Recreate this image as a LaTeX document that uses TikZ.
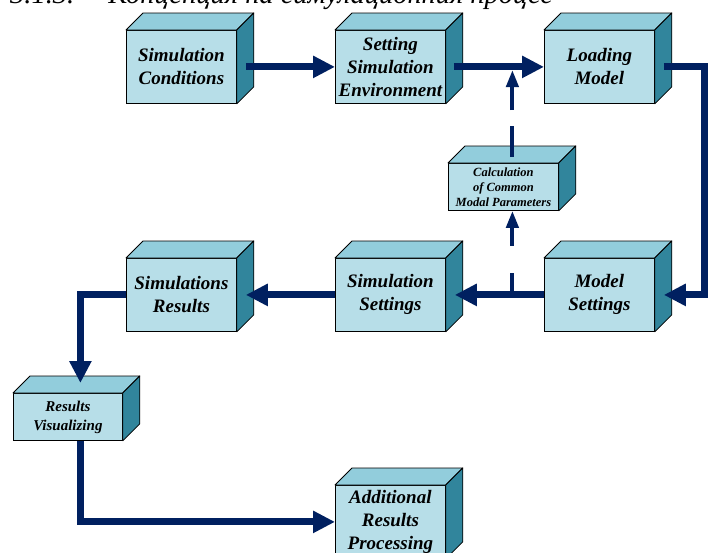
\documentclass[tikz,border=0pt]{standalone}
\usepackage{fontspec}
\setmainfont{Liberation Serif}
\usetikzlibrary{arrows.meta,calc}

\definecolor{frontcol}{HTML}{B7DEE8}
\definecolor{topcol}{HTML}{92CDDC}
\definecolor{sidecol}{HTML}{31859C}
\definecolor{flowcol}{HTML}{002060}

\tikzset{
  block/.style={draw=black, line width=0.8pt, fill=frontcol, align=center,
    inner sep=0pt, anchor=north west, minimum width=110pt, minimum height=73pt,
    font=\bfseries\itshape\fontsize{19}{23}\selectfont},
  smallblock/.style={block, minimum height=47pt},
  facetop/.style={fill=topcol, draw=black, line width=0.8pt, line join=round},
  faceside/.style={fill=sidecol, draw=black, line width=0.8pt, line join=round},
  flow/.style={draw=flowcol, line width=7pt, line join=miter,
    -{Triangle[length=22pt,width=21pt]}},
  feedback/.style={draw=flowcol, line width=4pt,
    -{Triangle[length=17pt,width=12pt]}},
}

% top and side faces of a block drawn as a cuboid
\newcommand{\blockdepth}[2][17]{%
  \filldraw[facetop] (#2.north west) -- ($(#2.north west)+(#1,-#1)$)
    -- ($(#2.north east)+(#1,-#1)$) -- (#2.north east) -- cycle;
  \filldraw[faceside] (#2.north east) -- ($(#2.north east)+(#1,-#1)$)
    -- ($(#2.south east)+(#1,-#1)$) -- (#2.south east) -- cycle;
}

\begin{document}
\begin{tikzpicture}[x=1pt, y=-1pt]
  \useasboundingbox (0,0) rectangle (709,552);
  \fill[white] (0,0) rectangle (709,552);
  \clip (0,0) rectangle (709,552);

  % section heading
  \node[anchor=base west, inner sep=0pt, font=\itshape\fontsize{28.5}{32}\selectfont]
    (heading) at (10,3) {3.1.3.\hspace{34pt}Концепция на симулационния процес};

  % upper row
  \node[block] (cond) at (126,30) {Simulation\\Conditions};
  \blockdepth{cond}
  \node[block] (env) at (335,30) {Setting\\Simulation\\Environment};
  \blockdepth{env}
  \node[block] (load) at (544,30) {Loading\\Model};
  \blockdepth{load}

  % parameter calculation
  \node[smallblock, font=\bfseries\itshape\fontsize{12.5}{15}\selectfont]
    (calc) at (448,163) {Calculation\\of Common\\Modal Parameters};
  \blockdepth{calc}

  % middle row
  \node[block] (res) at (126,258) {Simulations\\Results};
  \blockdepth{res}
  \node[block] (sset) at (335,258) {Simulation\\Settings};
  \blockdepth{sset}
  \node[block] (model) at (544,258) {Model\\Settings};
  \blockdepth{model}

  % lower blocks
  \node[smallblock, minimum width=109pt, font=\bfseries\itshape\fontsize{15}{19}\selectfont]
    (vis) at (13,393) {Results\\Visualizing};
  \blockdepth{vis}
  \node[block] (add) at (335,485) {Additional\\Results\\Processing};
  \blockdepth{add}

  % main flow
  \draw[flow] ($(cond.east)+(9,0)$) -- (env.west);
  \draw[flow] ($(env.east)+(8,0)$) -- (load.west);
  \draw[flow] ($(load.east)+(9,0)$) -| ($(model.east)+(50,0)$) -- ($(model.east)+(9,0)$);
  \draw[flow] (model.west) -- ($(sset.east)+(9,0)$);
  \draw[flow] (sset.west) -- ($(res.east)+(9,0)$);
  \draw[flow] (res.west) -| ($(vis.north)+(12.5,-10)$);
  \draw[flow] ($(vis.south)+(12.5,0)$) |- (add.west);

  % parameter feedback
  \coordinate (tapin) at ($(calc.south)+(9,84)$);
  \coordinate (tapout) at ($(calc.north)+(9,-93)$);
  \draw[feedback, dash pattern=on 22pt off 27pt on 200pt] (tapin) -- ($(calc.south)+(9,0)$);
  \draw[feedback, dash pattern=on 31pt off 16pt on 200pt] ($(calc.north)+(9,-6)$) -- (tapout);
\end{tikzpicture}
\end{document}
